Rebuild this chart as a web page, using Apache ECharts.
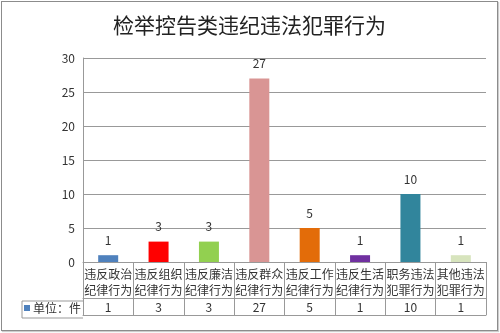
<!DOCTYPE html>
<html>
<head>
<meta charset="utf-8">
<script src="https://cdn.jsdelivr.net/npm/echarts@6/dist/echarts.min.js"></script>
<style>
html, body { margin: 0; padding: 0; background: #fff; }
#main { position: absolute; left: 1px; top: 1px; width: 495px; height: 328px; border: 1px solid #8c8c8c; box-shadow: 1px 1px 1px #ccc; }
</style>
</head>
<body>
<div id="main"></div>
<script>
var categories = ['违反政治\n纪律行为', '违反组织\n纪律行为', '违反廉洁\n纪律行为', '违反群众\n纪律行为',
	'违反工作\n纪律行为', '违反生活\n纪律行为', '职务违法\n犯罪行为', '其他违法\n犯罪行为'];
var values = [1, 3, 3, 27, 5, 1, 10, 1];
var barColors = ['#4F81BD', '#FF0000', '#92D050', '#D99594', '#E36C09', '#7030A0', '#31859C', '#D7E4BD'];
var seriesName = '单位：件';

var font = '"Noto Sans CJK SC", "Noto Sans", sans-serif';
var lineColor = '#999';

var barData = [];
for (var i = 0; i < values.length; i++) {
	barData.push({ value: values[i], itemStyle: { color: barColors[i] } });
}
var valueLabels = values.map(function (v) { return String(v); });

var myChart = echarts.init(document.getElementById('main'));
var option = {
	animation: false,
	textStyle: { fontFamily: font },
	title: {
		text: '检举控告类违纪违法犯罪行为',
		left: 'center',
		top: 8,
		textStyle: { fontSize: 21, fontWeight: 'normal', color: '#222', fontFamily: font }
	},
	legend: {
		left: 22,
		top: 300,
		icon: 'rect',
		itemWidth: 6,
		itemHeight: 6,
		itemGap: 2,
		padding: 0,
		data: [seriesName],
		textStyle: { fontSize: 12, color: '#333', padding: [0, 0, 0, -2] }
	},
	grid: { left: 81, right: 11, top: 56, bottom: 68 },
	xAxis: [{
		type: 'category',
		data: categories,
		position: 'bottom',
		axisLine: { show: true, lineStyle: { color: lineColor } },
		axisTick: { show: true, length: 53, interval: 0, lineStyle: { color: lineColor } },
		axisLabel: { interval: 0, margin: 4, fontSize: 12, lineHeight: 16, color: '#333' }
	}, {
		type: 'category',
		data: valueLabels,
		position: 'bottom',
		offset: 36,
		axisLine: { show: true, lineStyle: { color: lineColor } },
		axisTick: { show: false },
		axisLabel: { interval: 0, margin: 3, fontSize: 12, color: '#333' }
	}, {
		type: 'category',
		data: valueLabels,
		position: 'bottom',
		offset: 53,
		axisLine: { show: true, lineStyle: { color: lineColor } },
		axisTick: { show: false },
		axisLabel: { show: false }
	}],
	yAxis: {
		type: 'value',
		min: 0,
		max: 30,
		interval: 5,
		axisLine: { show: true, lineStyle: { color: lineColor } },
		axisTick: { show: false },
		axisLabel: { fontSize: 12, color: '#333', margin: 8 },
		splitLine: { lineStyle: { color: lineColor } }
	},
	graphic: [{
		type: 'polyline',
		shape: { points: [[81, 299], [20, 299], [20, 316], [81, 316]] },
		style: { stroke: lineColor, fill: null, lineWidth: 1 }
	}],
	series: [{
		name: seriesName,
		type: 'bar',
		barWidth: 20,
		itemStyle: { color: '#4F81BD' },
		label: { show: true, position: 'top', distance: 9, fontSize: 12, color: '#333' },
		data: barData
	}]
};
myChart.setOption(option);
</script>
</body>
</html>
